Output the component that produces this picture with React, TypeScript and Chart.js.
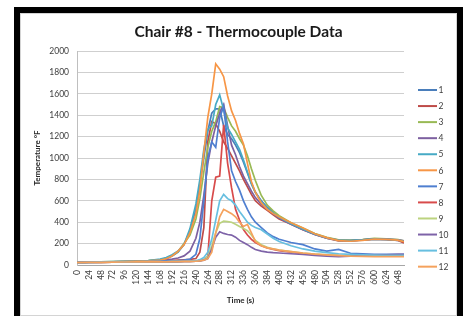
import React, { useEffect, useRef } from "react";
import { Chart, registerables } from "chart.js";

Chart.register(...registerables);

const times = [0, 24, 48, 72, 96, 120, 144, 168, 180, 192, 204, 216, 228, 240, 248, 256, 264, 272, 280, 288, 296, 304, 312, 320, 328, 336, 344, 352, 360, 372, 384, 396, 408, 432, 456, 480, 504, 528, 552, 576, 600, 624, 648, 660];

const xTickLabels = [0, 24, 48, 72, 96, 120, 144, 168, 192, 216, 240, 264, 288, 312, 336, 360, 384, 408, 432, 456, 480, 504, 528, 552, 576, 600, 624, 648];
const yTickValues = [0, 200, 400, 600, 800, 1000, 1200, 1400, 1600, 1800, 2000];

const chartTitle = "Chair #8 - Thermocouple Data";
const seriesNames = ["1", "2", "3", "4", "5", "6", "7", "8", "9", "10", "11", "12"];
const seriesColors = ["#4A7EBB", "#BE4B48", "#98B954", "#7D60A0", "#46AAC5", "#F79646", "#4F7FD0", "#D84B4B", "#BCD37F", "#7E63A8", "#67BFE0", "#F5A25D"];

const tc1 = [25, 27, 28, 30, 32, 34, 38, 48, 60, 85, 120, 190, 320, 520, 750, 1000, 1250, 1420, 1460, 1460, 1300, 1220, 1180, 1120, 1050, 960, 860, 760, 680, 600, 540, 490, 450, 385, 335, 290, 255, 232, 228, 232, 240, 238, 230, 220];
const tc2 = [24, 26, 27, 29, 30, 32, 34, 38, 40, 42, 45, 48, 52, 60, 120, 350, 1150, 1340, 1320, 1250, 1150, 1090, 1020, 950, 880, 800, 730, 660, 600, 550, 510, 470, 430, 380, 330, 285, 250, 225, 225, 235, 245, 240, 230, 205];
const tc3 = [26, 28, 29, 31, 33, 35, 40, 50, 62, 88, 125, 200, 280, 430, 620, 870, 1100, 1250, 1340, 1480, 1470, 1380, 1300, 1250, 1180, 1120, 1020, 900, 790, 650, 560, 505, 460, 395, 345, 295, 258, 236, 232, 238, 250, 245, 238, 225];
const tc4 = [24, 26, 27, 29, 31, 33, 36, 42, 48, 55, 65, 85, 130, 250, 400, 650, 950, 1150, 1300, 1420, 1500, 1300, 1120, 1030, 920, 830, 760, 690, 630, 570, 525, 480, 440, 380, 330, 285, 250, 230, 228, 235, 245, 242, 235, 225];
const tc5 = [27, 29, 30, 32, 34, 37, 42, 55, 70, 95, 130, 190, 340, 570, 800, 1080, 1270, 1300, 1500, 1590, 1450, 1280, 1220, 1150, 1080, 980, 870, 760, 680, 590, 530, 485, 445, 385, 335, 288, 252, 230, 228, 234, 244, 240, 232, 222];
const tc6 = [25, 27, 28, 30, 32, 34, 38, 46, 58, 85, 130, 190, 300, 480, 700, 1050, 1380, 1600, 1880, 1830, 1760, 1580, 1440, 1350, 1230, 1130, 950, 780, 680, 580, 520, 480, 450, 395, 345, 292, 256, 228, 222, 230, 242, 240, 232, 218];
const tc7 = [23, 25, 26, 27, 29, 30, 32, 35, 36, 38, 40, 45, 55, 100, 250, 600, 1000, 1150, 1100, 1380, 1480, 1150, 880, 780, 700, 600, 520, 450, 400, 350, 300, 265, 240, 210, 190, 150, 130, 145, 110, 105, 100, 100, 100, 100];
const tc8 = [22, 24, 25, 26, 28, 29, 30, 30, 30, 31, 32, 33, 34, 36, 40, 50, 80, 600, 820, 830, 1310, 950, 720, 520, 420, 330, 280, 240, 210, 180, 160, 145, 135, 120, 105, 98, 92, 88, 85, 85, 85, 85, 85, 85];
const tc9 = [22, 24, 25, 26, 28, 29, 30, 30, 30, 31, 32, 33, 34, 36, 40, 50, 80, 180, 300, 390, 410, 405, 400, 380, 360, 340, 320, 280, 230, 190, 165, 150, 140, 125, 112, 102, 95, 90, 88, 85, 85, 85, 85, 85];
const tc10 = [22, 24, 25, 26, 28, 29, 30, 30, 30, 31, 32, 33, 34, 35, 38, 45, 60, 150, 260, 310, 295, 285, 280, 260, 230, 210, 190, 165, 145, 130, 120, 115, 112, 105, 98, 90, 82, 78, 82, 90, 95, 95, 100, 100];
const tc11 = [23, 25, 26, 27, 29, 30, 31, 32, 32, 33, 34, 35, 37, 40, 50, 70, 120, 240, 420, 600, 660, 620, 600, 560, 500, 450, 400, 370, 350, 330, 290, 250, 220, 180, 150, 130, 115, 105, 100, 95, 92, 90, 90, 90];
const tc12 = [22, 24, 25, 26, 28, 29, 30, 30, 30, 31, 32, 33, 34, 35, 38, 45, 60, 120, 300, 450, 520, 500, 480, 450, 400, 360, 380, 300, 220, 180, 160, 150, 140, 125, 112, 102, 95, 88, 82, 80, 78, 78, 78, 78];

const seriesValues = [tc1, tc2, tc3, tc4, tc5, tc6, tc7, tc8, tc9, tc10, tc11, tc12];

const FONT = "Lato, 'Open Sans', 'DejaVu Sans', sans-serif";

const decorPlugin = {
  id: "decor",
  afterDraw(chart: any) {
    const ctx = chart.ctx;
    ctx.save();
    // title, centred on the whole canvas
    ctx.font = `bold 15.5px ${FONT}`;
    ctx.fillStyle = "#1a1a1a";
    ctx.textAlign = "center";
    ctx.textBaseline = "middle";
    ctx.fillText(chartTitle, chart.width / 2, 18);
    // legend
    ctx.font = `8.5px ${FONT}`;
    ctx.textAlign = "left";
    seriesNames.forEach((name, i) => {
      const y = 76 + i * 16.06;
      ctx.strokeStyle = seriesColors[i];
      ctx.lineWidth = 2;
      ctx.beginPath();
      ctx.moveTo(397, y);
      ctx.lineTo(416, y);
      ctx.stroke();
      ctx.fillStyle = "#404040";
      ctx.fillText(name, 417.5, y + 0.5);
    });
    ctx.restore();
  },
};

export default function App() {
  const canvasRef = useRef<HTMLCanvasElement | null>(null);

  useEffect(() => {
    if (!canvasRef.current) return;
    const datasets = seriesValues.map((vals, i) => ({
      label: seriesNames[i],
      data: vals.map((v, j) => ({ x: times[j], y: v })),
      borderColor: seriesColors[i],
      backgroundColor: seriesColors[i],
      borderWidth: 1.7,
      pointRadius: 0,
      tension: 0,
      fill: false,
      order: 12 - i,
    }));
    const chart = new Chart(canvasRef.current, {
      type: "line",
      data: { datasets },
      plugins: [decorPlugin],
      options: {
        animation: false,
        responsive: true,
        maintainAspectRatio: false,
        layout: { padding: { left: 0, right: 52, top: 37, bottom: 0 } },
        plugins: {
          legend: { display: false },
          tooltip: { enabled: false },
          title: { display: false },
        },
        scales: {
          x: {
            type: "linear",
            min: 0,
            max: 660,
            afterBuildTicks: (scale: any) => {
              scale.ticks = xTickLabels.map((v) => ({ value: v }));
            },
            afterFit: (scale: any) => {
              scale.height = 50;
            },
            grid: { display: false, drawTicks: false },
            border: { display: true, color: "#A6A6A6", width: 1 },
            ticks: {
              autoSkip: false,
              minRotation: 90,
              maxRotation: 90,
              padding: 5,
              color: "#404040",
              font: { family: FONT, size: 8.5 },
              callback: (v: any) => String(v),
            },
            title: {
              display: true,
              text: "Time (s)",
              color: "#262626",
              font: { family: FONT, size: 8, weight: "bold", lineHeight: 1.2 },
              padding: { top: 0, bottom: 10 },
            },
          },
          y: {
            type: "linear",
            min: 0,
            max: 2000,
            afterBuildTicks: (scale: any) => {
              scale.ticks = yTickValues.map((v) => ({ value: v }));
            },
            afterFit: (scale: any) => {
              scale.width = 56;
            },
            grid: { color: "#CFCFCF", lineWidth: 1, drawTicks: false },
            border: { display: true, color: "#BFBFBF", width: 1 },
            ticks: {
              padding: 8,
              color: "#404040",
              font: { family: FONT, size: 8.5 },
              callback: (v: any) => String(v),
            },
            title: {
              display: true,
              text: "Temperature °F",
              color: "#262626",
              font: { family: FONT, size: 8, weight: "bold", lineHeight: 1.2 },
              padding: { top: 12, bottom: 0 },
            },
          },
        },
      },
    });
    return () => chart.destroy();
  }, []);

  return (
    <div style={{ position: "fixed", left: 0, top: 0, width: 467, height: 316, overflow: "hidden", background: "#ffffff" }}>
      <div
        style={{
          position: "absolute",
          left: 14,
          top: 7,
          width: 449,
          height: 320,
          border: "6px solid #000",
          boxSizing: "border-box",
          background: "#fff",
        }}
      />
      <div
        style={{
          position: "absolute",
          left: 20,
          top: 13,
          width: 437,
          height: 303,
          border: "1px solid #D4D4D4",
          boxSizing: "border-box",
          background: "#fff",
        }}
      >
        <canvas ref={canvasRef} />
      </div>
    </div>
  );
}
